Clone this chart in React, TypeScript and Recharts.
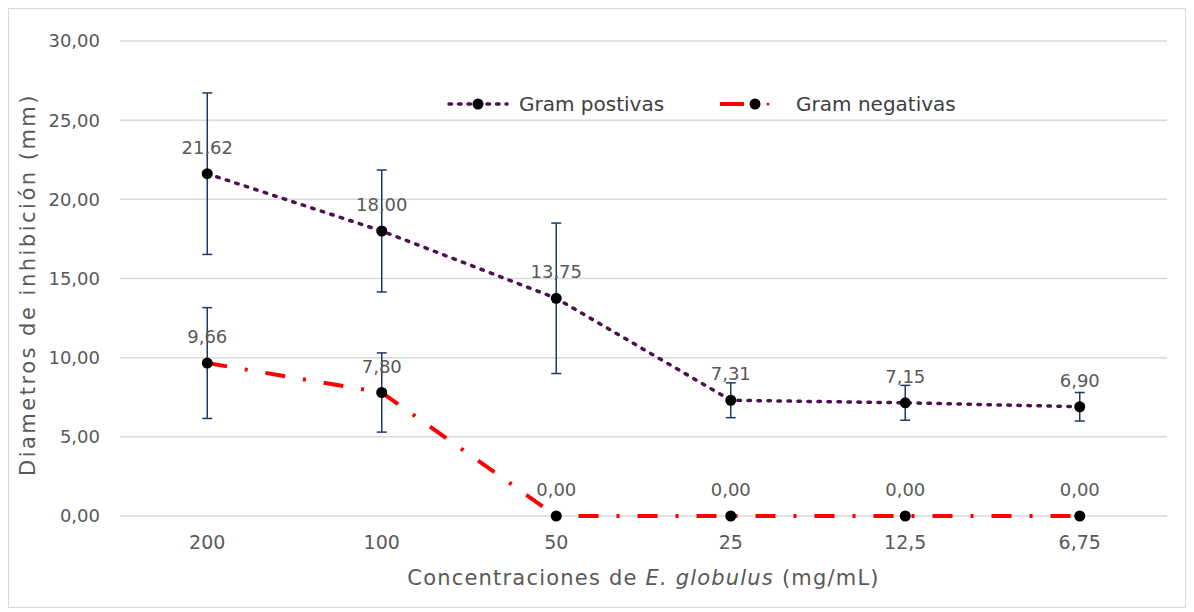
import { ComposedChart, Line, XAxis, YAxis, CartesianGrid, ErrorBar, LabelList, Legend } from 'recharts'

const concentrations = ['200', '100', '50', '25', '12,5', '6,75']
const gramPositivas = [21.62, 18.0, 13.75, 7.31, 7.15, 6.9]
const gramPositivasErr = [5.1, 3.85, 4.75, 1.1, 1.1, 0.9]
const gramNegativas = [9.66, 7.8, 0, 0, 0, 0]
const gramNegativasErr = [3.5, 2.5, null, null, null, null]
const yTicks = [0, 5, 10, 15, 20, 25, 30]

const data = concentrations.map((c, i) => ({
  conc: c,
  pos: gramPositivas[i],
  posErr: gramPositivasErr[i],
  neg: gramNegativas[i],
  negErr: gramNegativasErr[i],
}))

const FONT = '"DejaVu Sans", sans-serif'
const GREY = '#595959'
const POS_COLOR = '#4b1150'
const NEG_COLOR = '#ff0000'
const ERR_COLOR = '#1f3864'

const fmt = (v: any) => Number(v).toFixed(2).replace('.', ',')

const renderDot = (props: any) => {
  const { cx, cy, index } = props
  if (cx == null || cy == null) return <g key={index} />
  return <circle key={index} cx={cx} cy={cy} r={5.5} fill="#000" />
}

function LegendContent() {
  return (
    <div style={{ display: 'flex', alignItems: 'center', fontFamily: FONT, fontSize: 20, color: '#404040', whiteSpace: 'nowrap' }}>
      <svg width={66} height={22}>
        <line x1={4} y1={11} x2={62} y2={11} stroke={POS_COLOR} strokeWidth={3.5} strokeDasharray="2.5 7" strokeLinecap="round" />
        <circle cx={33} cy={11} r={5.5} fill="#000" />
      </svg>
      <span style={{ marginLeft: 8 }}>Gram postivas</span>
      <svg width={52} height={22} style={{ marginLeft: 56 }}>
        <line x1={0} y1={11} x2={24} y2={11} stroke={NEG_COLOR} strokeWidth={4} />
        <circle cx={35} cy={11} r={5.5} fill="#000" />
        <circle cx={48} cy={11} r={1.5} fill={NEG_COLOR} />
      </svg>
      <span style={{ marginLeft: 24 }}>Gram negativas</span>
    </div>
  )
}

const XTitle = (props: any) => {
  const { viewBox } = props
  const cx = viewBox.x + viewBox.width / 2
  return (
    <text x={cx} y={viewBox.y + 62} textAnchor="middle" dominantBaseline="central" fill={GREY} fontSize={21} letterSpacing={1.2} fontFamily={FONT}>
      Concentraciones de <tspan fontStyle="italic">E. globulus</tspan> (mg/mL)
    </text>
  )
}

const YTitle = (props: any) => {
  const { viewBox } = props
  const cy = viewBox.y + viewBox.height / 2 + 6
  const x = 19
  return (
    <text x={x} y={cy} transform={`rotate(-90 ${x} ${cy})`} textAnchor="middle" dominantBaseline="central" fill={GREY} fontSize={21} letterSpacing={2.5} fontFamily={FONT}>
      Diametros de inhibición  (mm)
    </text>
  )
}

export default function App() {
  const W = 1176
  const H = 598
  return (
    <div style={{ width: W, height: H, border: '1px solid #d9d9d9', background: '#fff', fontFamily: FONT }}>
      <ComposedChart width={W} height={H} data={data} margin={{ top: 32, right: 18, bottom: 21, left: 0 }}>
        <CartesianGrid vertical={false} stroke="#d9d9d9" strokeWidth={1.5} />
        <XAxis
          dataKey="conc"
          scale="band"
          height={70}
          tickLine={false}
          axisLine={false}
          tickSize={0}
          tickMargin={20}
          tick={{ fill: GREY, fontSize: 19, fontFamily: FONT }}
          label={<XTitle />}
        />
        <YAxis
          width={111}
          domain={[0, 30]}
          ticks={yTicks}
          tickFormatter={fmt}
          tickLine={false}
          axisLine={false}
          tickSize={0}
          tickMargin={20}
          tick={{ fill: GREY, fontSize: 18, fontFamily: FONT }}
          label={<YTitle />}
        />
        <Legend
          verticalAlign="middle"
          align="center"
          layout="horizontal"
          content={<LegendContent />}
          wrapperStyle={{ position: 'absolute', top: 83, left: 436, width: 600, height: 24 }}
        />
        <Line
          dataKey="pos"
          name="Gram postivas"
          stroke={POS_COLOR}
          strokeWidth={3.5}
          strokeDasharray="2.5 7.5"
          strokeLinecap="round"
          dot={renderDot}
          activeDot={false}
          isAnimationActive={false}
        >
          <ErrorBar dataKey="posErr" width={5} stroke={ERR_COLOR} strokeWidth={1.5} direction="y" isAnimationActive={false} />
          <LabelList dataKey="pos" position="top" offset={20} formatter={fmt} fill={GREY} fontSize={18} fontFamily={FONT} />
        </Line>
        <Line
          dataKey="neg"
          name="Gram negativas"
          stroke={NEG_COLOR}
          strokeWidth={4}
          strokeDasharray="20 18 3 18"
          dot={renderDot}
          activeDot={false}
          isAnimationActive={false}
        >
          <ErrorBar dataKey="negErr" width={5} stroke={ERR_COLOR} strokeWidth={1.5} direction="y" isAnimationActive={false} />
          <LabelList dataKey="neg" position="top" offset={20} formatter={fmt} fill={GREY} fontSize={18} fontFamily={FONT} />
        </Line>
      </ComposedChart>
    </div>
  )
}
